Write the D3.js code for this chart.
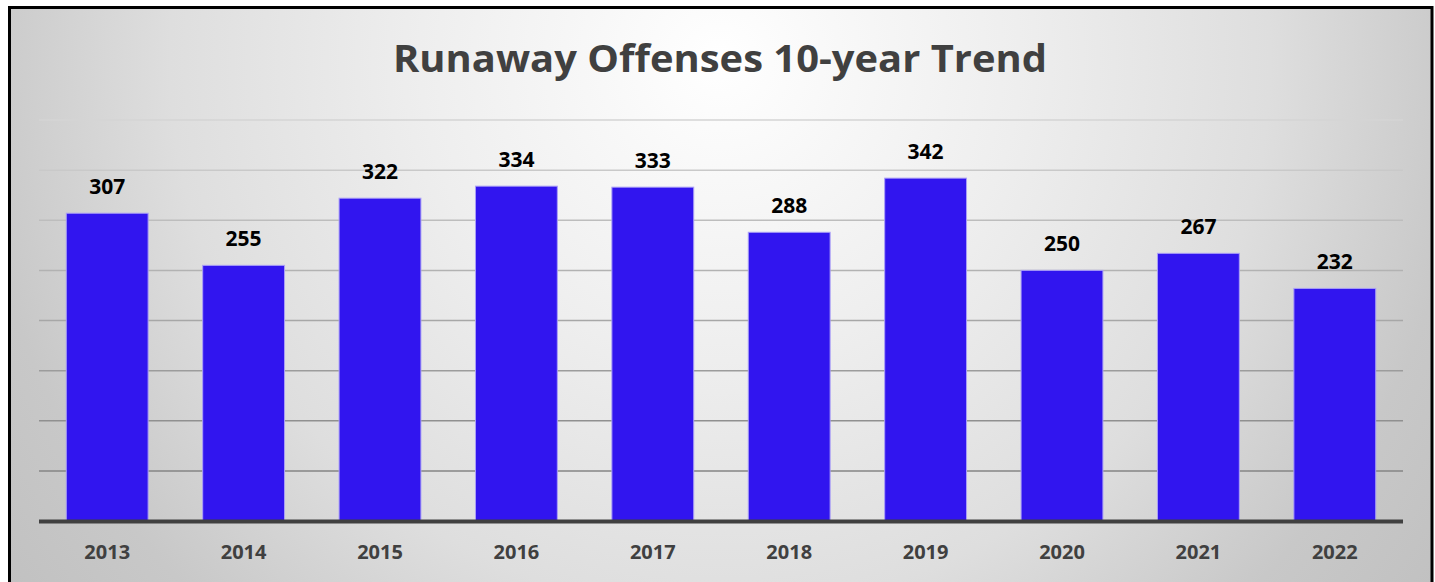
<!DOCTYPE html>
<html>
<head>
<meta charset="utf-8">
<script src="https://cdn.jsdelivr.net/npm/d3@7"></script>
<style>
  html, body { margin: 0; padding: 0; background: #ffffff; }
  svg { display: block; }
</style>
</head>
<body>
<script>
const years = ["2013","2014","2015","2016","2017","2018","2019","2020","2021","2022"];
const offenses = [307, 255, 322, 334, 333, 288, 342, 250, 267, 232];
const gridValues = [50, 100, 150, 200, 250, 300, 350, 400];
const titleText = "Runaway Offenses 10-year Trend";

const W = 1435, H = 582;
const svg = d3.select("body").append("svg").attr("width", W).attr("height", H);

const defs = svg.append("defs");
const grad = defs.append("radialGradient")
  .attr("id", "bg").attr("gradientUnits", "userSpaceOnUse")
  .attr("cx", 720).attr("cy", 60).attr("r", 1000).attr("fx", 720).attr("fy", 60);
[[0, "#ffffff"], [0.12, "#f8f8f8"], [0.3, "#eeeeee"], [0.55, "#dedede"], [0.75, "#c8c8c8"], [1, "#bbbbbb"]]
  .forEach(([o, c]) => grad.append("stop").attr("offset", o).attr("stop-color", c));

// frame
svg.append("rect").attr("x", 9.5).attr("y", 7.5).attr("width", 1422.5).attr("height", 600)
  .attr("fill", "url(#bg)").attr("stroke", "#000").attr("stroke-width", 3);

const x = d3.scaleBand().domain(years).range([39, 1403]).paddingInner(0.4).paddingOuter(0.2);
const y = d3.scaleLinear().domain([0, 400]).range([521, 120]);

const gridColor = d3.scaleLinear().domain([50, 400]).range(["#858585", "#d4d4d4"]);

// gridlines
svg.append("g").selectAll("line").data(gridValues).join("line")
  .attr("x1", 39).attr("x2", 1403)
  .attr("y1", d => y(d)).attr("y2", d => y(d))
  .attr("stroke", d => gridColor(d)).attr("stroke-width", 1.5);

// bars
svg.append("g").selectAll("rect").data(offenses).join("rect")
  .attr("x", (d, i) => x(years[i]))
  .attr("y", d => y(d))
  .attr("width", x.bandwidth())
  .attr("height", d => y(0) - y(d))
  .attr("fill", "#3115ef")
  .attr("stroke", "#aa9ff7").attr("stroke-width", 1);

// baseline
svg.append("line").attr("x1", 39).attr("x2", 1403)
  .attr("y1", y(0) + 0.5).attr("y2", y(0) + 0.5)
  .attr("stroke", "#404040").attr("stroke-width", 4);

// value labels
svg.append("g").selectAll("text").data(offenses).join("text")
  .attr("x", (d, i) => x(years[i]) + x.bandwidth() / 2)
  .attr("y", d => y(d) - 19)
  .attr("text-anchor", "middle")
  .attr("font-family", "'Open Sans', sans-serif").attr("font-weight", 700)
  .attr("font-size", 21).attr("fill", "#000")
  .text(d => d);

// x axis labels
const xAxis = svg.append("g").attr("transform", `translate(0,${y(0)})`)
  .call(d3.axisBottom(x).tickSize(0).tickPadding(0));
xAxis.select(".domain").remove();
xAxis.selectAll("text")
  .attr("dy", null).attr("y", 38)
  .attr("font-family", "'Open Sans', sans-serif").attr("font-weight", 700)
  .attr("font-size", 20).attr("fill", "#404040");

// title
const title = svg.append("text").attr("x", 720).attr("y", 72)
  .attr("text-anchor", "middle")
  .attr("font-family", "'Open Sans', sans-serif").attr("font-weight", 700)
  .attr("font-size", 38).attr("fill", "#404040")
  .text(titleText);
const tl = title.node().getComputedTextLength();
if (Math.abs(tl - 654) > 8) title.attr("textLength", 654).attr("lengthAdjust", "spacingAndGlyphs");
</script>
</body>
</html>
